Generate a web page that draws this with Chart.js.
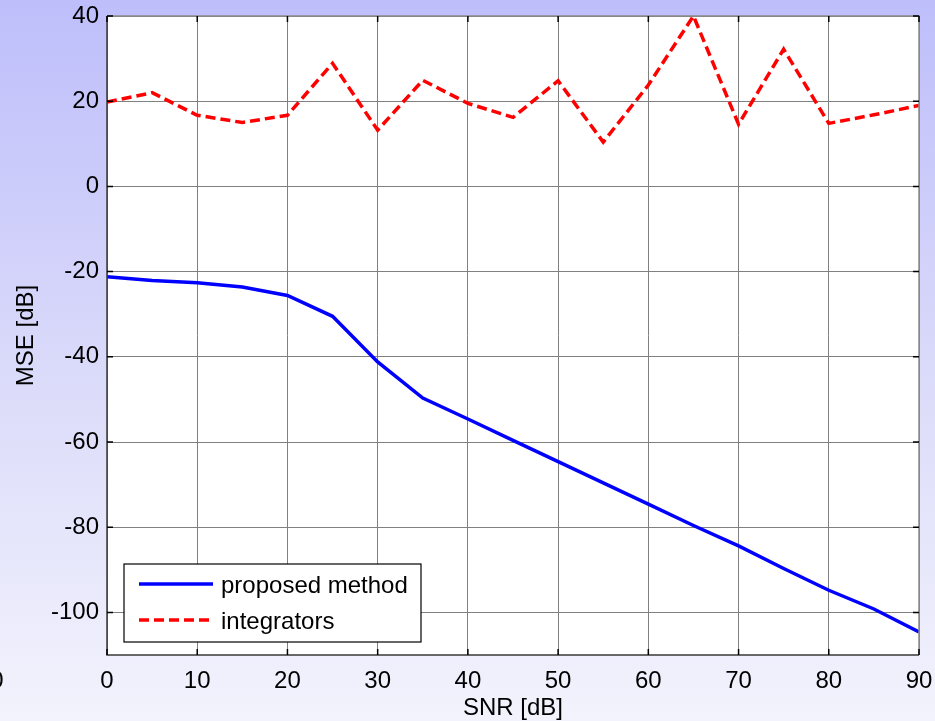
<!DOCTYPE html>
<html>
<head>
<meta charset="utf-8">
<script src="https://cdn.jsdelivr.net/npm/chart.js@4"></script>
<style>
  html, body { margin: 0; padding: 0; background: #ffffff; }
  #wrap { width: 935px; height: 721px; }
</style>
</head>
<body>
<div id="wrap"><canvas id="c" width="935" height="721"></canvas></div>
<script>
// SNR sweep (dB)
const snr = [0, 5, 10, 15, 20, 25, 30, 35, 40, 45, 50, 55, 60, 65, 70, 75, 80, 85, 90];
// MSE of the proposed method (dB)
const mseProposed = [-21.2, -22.1, -22.6, -23.6, -25.6, -30.5, -41.2, -49.7, -54.6, -59.6, -64.6, -69.6, -74.6, -79.6, -84.4, -89.7, -94.8, -99.2, -104.6];
// MSE of the integrator approach (dB)
const mseIntegrators = [19.8, 22.0, 16.7, 15.0, 16.7, 28.9, 13.2, 24.9, 19.5, 16.2, 24.8, 10.4, 23.8, 40.0, 14.6, 32.2, 14.8, 16.8, 19.0];
// Axis ticks
const xTicks = [0, 10, 20, 30, 40, 50, 60, 70, 80, 90];
const yTicks = [-100, -80, -60, -40, -20, 0, 20, 40];

const FONT = '"Liberation Sans", Arial, sans-serif';
const FS = 24;

const toXY = (xs, ys) => xs.map((x, i) => ({ x: x, y: ys[i] }));

// Lavender backdrop behind the whole figure
const backdrop = {
  id: 'backdrop',
  beforeDraw(chart) {
    const ctx = chart.ctx;
    const g = ctx.createLinearGradient(0, 0, 0, chart.height);
    g.addColorStop(0, '#bebefb');
    g.addColorStop(0.55, '#dcdcfa');
    g.addColorStop(1, '#f3f3fd');
    ctx.save();
    ctx.fillStyle = g;
    ctx.fillRect(0, 0, chart.width, chart.height);
    const a = chart.chartArea;
    ctx.fillStyle = '#ffffff';
    ctx.fillRect(a.left, a.top, a.right - a.left, a.bottom - a.top);
    ctx.restore();
  }
};

// Box frame, inward tick marks and the boxed legend
const frame = {
  id: 'frame',
  afterDatasetsDraw(chart) {
    const ctx = chart.ctx;
    const a = chart.chartArea;
    const xs = chart.scales.x, ys = chart.scales.y;
    ctx.save();
    // top and right edges
    ctx.strokeStyle = '#8a8a8a';
    ctx.lineWidth = 1.5;
    ctx.beginPath();
    ctx.moveTo(a.left, a.top); ctx.lineTo(a.right, a.top); ctx.lineTo(a.right, a.bottom);
    ctx.stroke();
    // left and bottom edges
    ctx.strokeStyle = '#3a3a3a';
    ctx.beginPath();
    ctx.moveTo(a.left, a.top); ctx.lineTo(a.left, a.bottom); ctx.lineTo(a.right, a.bottom);
    ctx.stroke();
    // inward ticks
    ctx.strokeStyle = '#000000';
    ctx.lineWidth = 1.5;
    const tl = 6;
    ctx.beginPath();
    xTicks.forEach(v => {
      const px = xs.getPixelForValue(v);
      ctx.moveTo(px, a.bottom); ctx.lineTo(px, a.bottom - tl);
      ctx.moveTo(px, a.top); ctx.lineTo(px, a.top + tl);
    });
    yTicks.forEach(v => {
      const py = ys.getPixelForValue(v);
      ctx.moveTo(a.left, py); ctx.lineTo(a.left + tl, py);
      ctx.moveTo(a.right, py); ctx.lineTo(a.right - tl, py);
    });
    ctx.stroke();

    // legend box
    const bx = 124, by = 564, bw = 297, bh = 78;
    ctx.fillStyle = '#ffffff';
    ctx.fillRect(bx, by, bw, bh);
    ctx.strokeStyle = '#000000';
    ctx.lineWidth = 1.2;
    ctx.strokeRect(bx, by, bw, bh);
    ctx.font = FS + 'px ' + FONT;
    ctx.textBaseline = 'middle';
    ctx.textAlign = 'left';
    chart.data.datasets.forEach((ds, i) => {
      const ly = by + 20 + i * 36;
      ctx.strokeStyle = ds.borderColor;
      ctx.lineWidth = 3.5;
      ctx.setLineDash(ds.borderDash || []);
      ctx.beginPath();
      ctx.moveTo(bx + 15, ly); ctx.lineTo(bx + 89, ly);
      ctx.stroke();
      ctx.setLineDash([]);
      ctx.fillStyle = '#000000';
      ctx.fillText(ds.label, bx + 97, ly + 2);
    });
    // stray label at the left margin
    ctx.textAlign = 'center';
    ctx.fillText('0', -3, a.bottom + 26);
    ctx.restore();
  }
};

new Chart(document.getElementById('c'), {
  type: 'line',
  data: {
    datasets: [
      {
        label: 'proposed method',
        data: toXY(snr, mseProposed),
        borderColor: '#0000ff',
        borderWidth: 3.5,
        pointRadius: 0,
        tension: 0,
        fill: false
      },
      {
        label: 'integrators',
        data: toXY(snr, mseIntegrators),
        borderColor: '#ff0000',
        borderWidth: 3.5,
        borderDash: [10, 5],
        pointRadius: 0,
        tension: 0,
        fill: false
      }
    ]
  },
  options: {
    responsive: false,
    animation: false,
    devicePixelRatio: 1,
    layout: { padding: { top: 16, right: 16, left: 0, bottom: 0 } },
    plugins: {
      legend: { display: false },
      tooltip: { enabled: false }
    },
    scales: {
      x: {
        type: 'linear',
        min: 0,
        max: 90,
        afterBuildTicks: s => { s.ticks = xTicks.map(v => ({ value: v })); },
        afterFit: s => { s.height = 66; s.paddingLeft = 0; s.paddingRight = 0; },
        grid: { color: '#808080', lineWidth: 1, drawTicks: false },
        border: { display: false },
        ticks: { color: '#000000', font: { family: FONT, size: FS }, padding: 12, maxRotation: 0 },
        title: { display: true, text: 'SNR [dB]', color: '#000000', font: { family: FONT, size: FS, lineHeight: 1.0 }, padding: { top: 0, bottom: 1 } }
      },
      y: {
        type: 'linear',
        min: -110,
        max: 40,
        afterBuildTicks: s => { s.ticks = yTicks.map(v => ({ value: v })); },
        afterFit: s => { s.width = 107; s.paddingTop = 0; s.paddingBottom = 0; },
        grid: { color: '#808080', lineWidth: 1, drawTicks: false },
        border: { display: false },
        ticks: { color: '#000000', font: { family: FONT, size: FS }, padding: 8 },
        title: { display: true, text: 'MSE [dB]', color: '#000000', font: { family: FONT, size: FS }, padding: { top: 12, bottom: 0 } }
      }
    }
  },
  plugins: [backdrop, frame]
});
</script>
</body>
</html>
